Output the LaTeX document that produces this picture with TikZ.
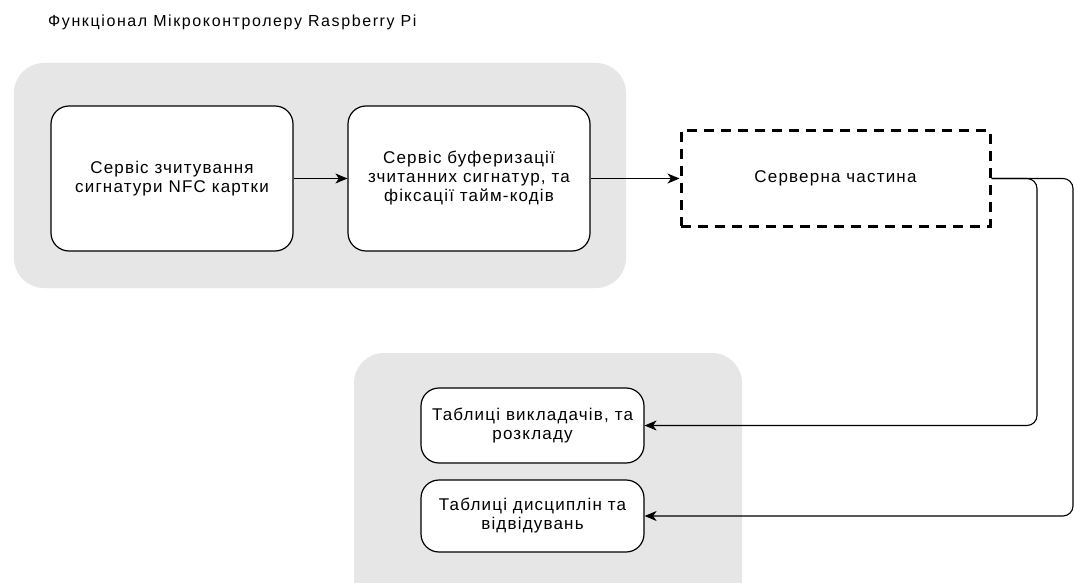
\documentclass[tikz,border=0pt]{standalone}
\usepackage{fontspec}
\setmainfont{Liberation Sans}
\newfontfamily\labelfont[LetterSpace=7]{Liberation Sans}
\newfontfamily\headfont[LetterSpace=10]{Liberation Sans}
\usetikzlibrary{arrows.meta}
\definecolor{groupgray}{HTML}{E6E6E6}
\begin{document}
\begin{tikzpicture}[x=1pt,y=-1pt,
  group/.style={fill=groupgray, draw=none, rounded corners=30pt},
  proc/.style={draw, fill=white, line width=1.2pt, rounded corners=18pt,
    align=center, inner sep=0pt, font=\labelfont\fontsize{17}{19}\selectfont},
  remote/.style={draw, fill=white, line width=3pt, dash pattern=on 10pt off 7pt,
    align=center, inner sep=0pt, font=\labelfont\fontsize{17}{19}\selectfont},
  link/.style={-{Stealth[length=12pt,width=10pt,inset=3.5pt]}, line width=1.1pt},
  feed/.style={link, rounded corners=10pt}]
\clip (0,0) rectangle (1074,583);
\fill[white] (0,0) rectangle (1074,583);

% title
\node[anchor=base west, inner sep=0pt, font=\headfont\fontsize{16}{18}\selectfont] (title) at (48,27)
  {Функціонал Мікроконтролеру Raspberry Pi};

% grey containers
\fill[group] (14,63) rectangle (626,288);
\fill[group] (354,353) rectangle (742,620);

% boxes
\node[proc, minimum width=242pt, minimum height=145pt] (nfc) at (172,178.5)
  {Сервіс зчитування\\сигнатури NFC картки};
\node[proc, minimum width=242pt, minimum height=145pt] (buf) at (469,178.5)
  {Сервіс буферизації\\зчитанних сигнатур, та\\фіксації тайм-кодів};
\node[remote, minimum width=309pt, minimum height=95pt] (srv) at (835.5,178.5)
  {Серверна частина};
\node[proc, minimum width=223pt, minimum height=75pt] (tab1) at (532.5,425.5)
  {Таблиці викладачів, та\\розкладу};
\node[proc, minimum width=223pt, minimum height=72pt] (tab2) at (532.5,516)
  {Таблиці дисциплін та\\відвідувань};

% connectors
\draw[link] (nfc.east) -- (buf.west);
\draw[link] (buf.east) -- (srv.west);
\draw[feed] (srv.east) -| (1037,300) |- (tab1.east);
\draw[feed] (srv.east) -| (1073,300) |- (tab2.east);
\end{tikzpicture}
\end{document}
